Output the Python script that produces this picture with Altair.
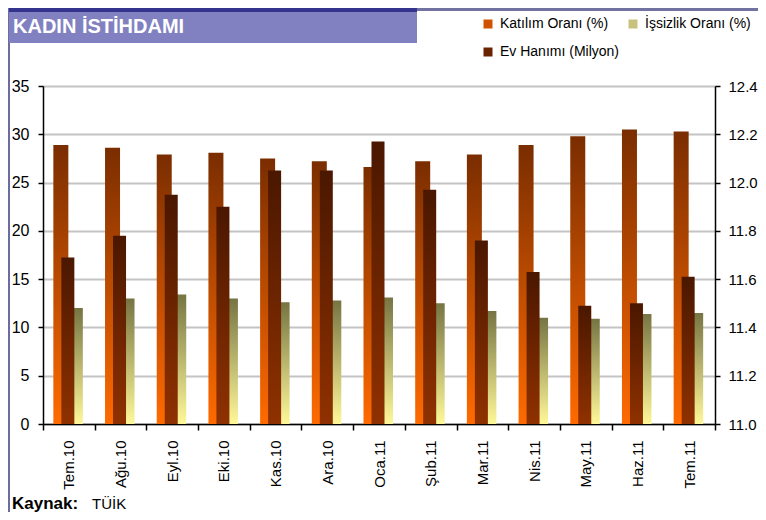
import altair as alt
import pandas as pd

# ---- data ----
months = ["Tem.10", "Ağu.10", "Eyl.10", "Eki.10", "Kas.10", "Ara.10", "Oca.11",
          "Şub.11", "Mar.11", "Nis.11", "May.11", "Haz.11", "Tem.11"]
katilim = [28.9, 28.6, 27.9, 28.1, 27.5, 27.2, 26.6, 27.2, 27.9, 28.9, 29.8, 30.5, 30.3]
issizlik = [12.0, 13.0, 13.4, 13.0, 12.6, 12.8, 13.1, 12.5, 11.7, 11.0, 10.9, 11.4, 11.5]
ev_hanimi = [11.69, 11.78, 11.95, 11.90, 12.05, 12.05, 12.17, 11.97, 11.76, 11.63, 11.49, 11.50, 11.61]

# legend order (column-major in a 2-column legend): Katılım, Ev Hanımı | İşsizlik
series = ["Katılım Oranı (%)", "Ev Hanımı (Milyon)", "İşsizlik Oranı (%)"]
series_colors = ["#cf5200", "#6a2300", "#c9c27f"]
left_ticks = [0, 5, 10, 15, 20, 25, 30, 35]
right_ticks = [11.0, 11.2, 11.4, 11.6, 11.8, 12.0, 12.2, 12.4]
title_text = ["KADIN İSTİHDAMI"]
source_label = ["Kaynak:"]
source_value = ["TÜİK"]

df = pd.DataFrame({"ay": months, "katilim": katilim, "issizlik": issizlik, "ev": ev_hanimi})

FONT = "Liberation Sans"

def grad(top, bottom):
    return alt.Gradient(
        gradient="linear",
        stops=[alt.GradientStop(color=top, offset=0), alt.GradientStop(color=bottom, offset=1)],
        x1=0, x2=0, y1=0, y2=1,
    )

x_enc = alt.X(
    "ay:N", sort=months,
    scale=alt.Scale(paddingInner=0, paddingOuter=0),
    axis=alt.Axis(title=None, labelAngle=270, labelAlign="right", labelBaseline="middle",
                  tickBand="extent", tickSize=6, labelPadding=10, labelFontSize=15,
                  labelFont=FONT, labelColor="black", domainColor="black", domainWidth=1.5,
                  tickColor="black", tickWidth=1.5),
)

left_scale = alt.Scale(domain=[0, 35], nice=False)
left_axis = alt.Axis(title=None, orient="left", values=left_ticks, grid=True, gridColor="#c4c4c4",
                     gridWidth=2, tickSize=5, labelPadding=9, labelFontSize=16, labelFont=FONT,
                     labelColor="black", domainColor="black", domainWidth=1.5,
                     tickColor="black", tickWidth=1.5)

orange = alt.Chart(df).mark_bar(width=15, xOffset=-8, color=grad("#7a2d00", "#ff6a00")).encode(
    x=x_enc,
    y=alt.Y("katilim:Q", scale=left_scale, axis=left_axis),
)

yellow = alt.Chart(df).mark_bar(width=15, xOffset=6.5, color=grad("#767443", "#fff899")).encode(
    x=x_enc,
    y=alt.Y("issizlik:Q", scale=left_scale, axis=left_axis),
)

dark = alt.Chart(df).mark_bar(width=13, xOffset=-1, color=grad("#4a1700", "#8f3100")).encode(
    x=x_enc,
    y=alt.Y("ev:Q", scale=alt.Scale(domain=[11.0, 12.4], nice=False, clamp=True),
            axis=alt.Axis(title=None, orient="right", values=right_ticks, format=".1f", grid=False,
                          tickSize=5, labelPadding=8, labelFontSize=15, labelFont=FONT,
                          labelColor="black", domainColor="black", domainWidth=1.5,
                          tickColor="black", tickWidth=1.5)),
    y2=alt.datum(11.0),
)

bars = alt.layer(alt.layer(orange, yellow), dark).resolve_scale(y="independent")

legend_layer = alt.Chart(pd.DataFrame({"seri": series})).mark_square(size=0).encode(
    x=alt.value(0), y=alt.value(0),
    color=alt.Color("seri:N", sort=series,
                    scale=alt.Scale(domain=series, range=series_colors),
                    legend=alt.Legend(title=None, orient="none", legendX=438, legendY=-69,
                                      columns=2, symbolType="square", symbolSize=81,
                                      symbolOpacity=1, symbolStrokeWidth=0, labelFontSize=14,
                                      labelFont=FONT, labelColor="black", labelOffset=5,
                                      columnPadding=6, rowPadding=14, labelLimit=300, padding=0)),
)

one = pd.DataFrame({"k": [0]})

top_line = alt.Chart(one).mark_rect(color="#7272a2").encode(
    x=alt.value(-34), x2=alt.value(723), y=alt.value(-78), y2=alt.value(-75))
left_line = alt.Chart(one).mark_rect(color="#6c6ca0").encode(
    x=alt.value(-35), x2=alt.value(-33), y=alt.value(-78), y2=alt.value(426))
title_box = alt.Chart(one).mark_rect(color="#8181c1").encode(
    x=alt.value(-34), x2=alt.value(374), y=alt.value(-78), y2=alt.value(-43))
title_strip = alt.Chart(one).mark_rect(color="#34348f").encode(
    x=alt.value(-34), x2=alt.value(374), y=alt.value(-78), y2=alt.value(-74))
title_lbl = alt.Chart(pd.DataFrame({"t": title_text})).mark_text(
    align="left", baseline="alphabetic", font=FONT, fontSize=20, fontWeight="bold", color="white"
).encode(text="t:N", x=alt.value(-30), y=alt.value(-53))

src1 = alt.Chart(pd.DataFrame({"t": source_label})).mark_text(
    align="left", baseline="alphabetic", font=FONT, fontSize=17, fontWeight="bold", color="black"
).encode(text="t:N", x=alt.value(-31), y=alt.value(423))
src2 = alt.Chart(pd.DataFrame({"t": source_value})).mark_text(
    align="left", baseline="alphabetic", font=FONT, fontSize=15, color="black"
).encode(text="t:N", x=alt.value(49), y=alt.value(423))

chart = alt.layer(
    top_line, left_line, title_box, title_strip, title_lbl, bars, legend_layer, src1, src2
).properties(
    width=672, height=338,
    autosize=alt.AutoSizeParams(type="none"),
    padding={"left": 35, "top": 78, "right": 43, "bottom": 88},
).configure_view(stroke=None).configure(font=FONT, background="white")

chart.save("out.html", embed_options={"renderer": "svg", "actions": False})
